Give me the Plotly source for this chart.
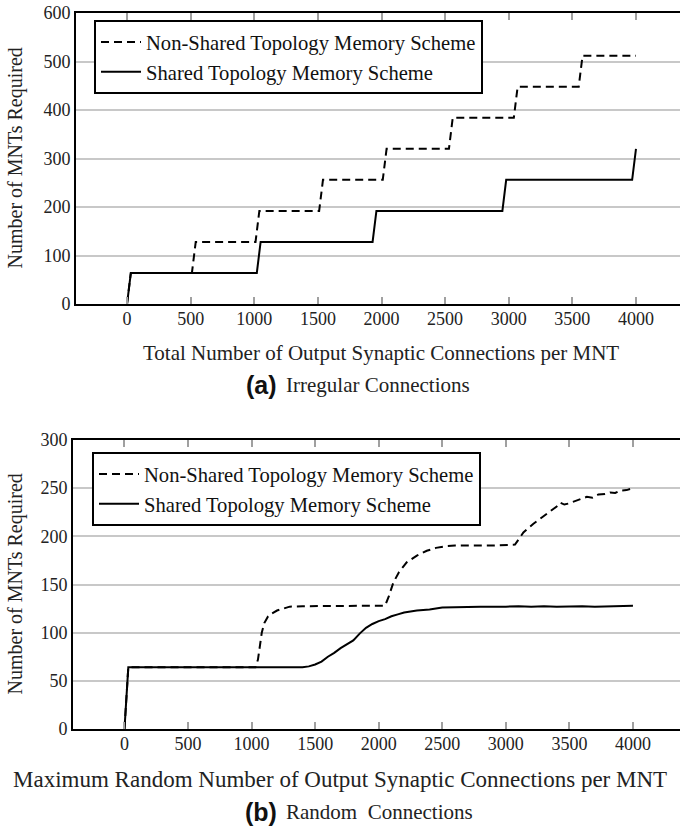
import plotly.graph_objects as go

W, H = 680, 827

# ---- Panel (a): Irregular connections ----
a_nonshared_x = [0, 30, 510, 540, 1010, 1040, 1510, 1540, 2010, 2040, 2530, 2560, 3040, 3070, 3550, 3580, 4000]
a_nonshared_y = [0, 64, 64, 128, 128, 192, 192, 256, 256, 320, 320, 384, 384, 448, 448, 512, 512]
a_shared_x = [0, 30, 1020, 1050, 1930, 1960, 2950, 2980, 3970, 4000]
a_shared_y = [0, 64, 64, 128, 128, 192, 192, 256, 256, 320]

# ---- Panel (b): Random connections ----
b_nonshared_x = [0, 30, 1030, 1050, 1080, 1100, 1130, 1160, 1200, 1250, 1300, 1400, 1600, 1800, 2050,
                 2080, 2115, 2160, 2220, 2300, 2378, 2450, 2535, 2600, 2692, 2800, 2900, 3072,
                 3090, 3138, 3217, 3290, 3348, 3400, 3427, 3460, 3492, 3558, 3600, 3637, 3680,
                 3728, 3780, 3820, 3860, 3899, 3950, 4000]
b_nonshared_y = [0, 64, 64, 72, 100, 110, 117, 120, 123, 125, 127, 127.5, 127.5, 128, 128,
                 138, 152, 163, 173, 180, 185, 188, 190, 190.5, 190.5, 191, 190.5, 191.4,
                 195, 204, 213, 220, 226, 231, 235, 233, 234, 237, 239, 241, 240,
                 243.5, 244, 245.5, 245, 247.5, 248, 250]
b_shared_x = [0, 30, 1400, 1450, 1500, 1550, 1600, 1650, 1700, 1750, 1800, 1850, 1900, 1950, 2000,
              2050, 2100, 2150, 2200, 2250, 2300, 2400, 2500, 2600, 2700, 2800, 3000, 3100, 3200,
              3300, 3400, 3500, 3600, 3700, 3800, 3900, 4000]
b_shared_y = [0, 64, 64, 65, 67, 70, 75, 79, 84, 88, 92, 99, 105, 109, 112,
              114, 117, 119, 121, 122, 123, 124, 126, 126.5, 127, 127, 127, 127.5, 127,
              127.5, 127, 127.5, 127.5, 127, 127.5, 127.5, 128]

a_yticks = [0, 100, 200, 300, 400, 500, 600]
b_yticks = [0, 50, 100, 150, 200, 250, 300]
xticks = [0, 500, 1000, 1500, 2000, 2500, 3000, 3500, 4000]
series_names = ["Non-Shared Topology Memory Scheme", "Shared Topology Memory Scheme"]

SERIF = "Liberation Serif"
DASH = "8px,5px"

fig = go.Figure()
fig.add_trace(go.Scatter(x=a_nonshared_x, y=a_nonshared_y, mode="lines", name=series_names[0],
                         line=dict(color="black", width=2, dash=DASH), xaxis="x", yaxis="y",
                         legend="legend"))
fig.add_trace(go.Scatter(x=a_shared_x, y=a_shared_y, mode="lines", name=series_names[1],
                         line=dict(color="black", width=2), xaxis="x", yaxis="y",
                         legend="legend"))
fig.add_trace(go.Scatter(x=b_nonshared_x, y=b_nonshared_y, mode="lines", name=series_names[0],
                         line=dict(color="black", width=2, dash=DASH), xaxis="x2", yaxis="y2",
                         legend="legend2"))
fig.add_trace(go.Scatter(x=b_shared_x, y=b_shared_y, mode="lines", name=series_names[1],
                         line=dict(color="black", width=2), xaxis="x2", yaxis="y2",
                         legend="legend2"))


def px_x(p):
    return p / W


def px_y(p):
    return 1 - p / H


xcommon = dict(tickvals=xticks, ticks="inside", ticklen=7, tickwidth=2, tickcolor="#a0a0a0",
               showline=True, linecolor="black", linewidth=2, mirror="ticks", automargin=False,
               ticklabelstandoff=-3,
               showgrid=False, zeroline=False, tickfont=dict(family=SERIF, size=18, color="#222"))
ycommon = dict(showline=True, linecolor="black", linewidth=2, mirror=False, automargin=False,
               showgrid=True, gridcolor="#c8c8c8", gridwidth=2, zeroline=False, ticks="",
               tickfont=dict(family=SERIF, size=18, color="#222"))

fig.update_layout(
    width=W, height=H,
    margin=dict(l=0, r=0, t=0, b=0, autoexpand=False),
    paper_bgcolor="white", plot_bgcolor="white",
    showlegend=True,
    xaxis=dict(domain=[px_x(76), 1], range=[-401, 4346], anchor="y", **xcommon),
    yaxis=dict(domain=[px_y(304), px_y(13)], range=[0, 600], tickvals=a_yticks, anchor="x", **ycommon),
    xaxis2=dict(domain=[px_x(73), 1], range=[-405, 4370], anchor="y2", **xcommon),
    yaxis2=dict(domain=[px_y(729), px_y(440)], range=[0, 300], tickvals=b_yticks, anchor="x2", **ycommon),
    legend=dict(x=px_x(94), y=px_y(20), xanchor="left", yanchor="top", bgcolor="white",
                bordercolor="black", borderwidth=2, font=dict(family=SERIF, size=20.6, color="#111"),
                itemwidth=40, tracegroupgap=0),
    legend2=dict(x=px_x(92), y=px_y(452), xanchor="left", yanchor="top", bgcolor="white",
                 bordercolor="black", borderwidth=2, font=dict(family=SERIF, size=20.6, color="#111"),
                 itemwidth=40, tracegroupgap=0),
)

ann = []
# y-axis titles
for yc in [158.5, 584.5]:
    ann.append(dict(text="Number of MNTs Required", x=px_x(15), y=px_y(yc), xref="paper", yref="paper",
                    xanchor="center", yanchor="middle",
                    textangle=-90, showarrow=False, font=dict(family=SERIF, size=20, color="#222")))
# x-axis titles
ann.append(dict(text="Total Number of Output Synaptic Connections per MNT", x=px_x(381), y=px_y(353),
                xref="paper", yref="paper", xanchor="center", yanchor="middle",
                showarrow=False, font=dict(family=SERIF, size=21, color="#222")))
ann.append(dict(text="Maximum Random Number of Output Synaptic Connections per MNT", x=px_x(340), y=px_y(779),
                xref="paper", yref="paper", xanchor="center", yanchor="middle",
                showarrow=False, font=dict(family=SERIF, size=23, color="#222")))
# captions
for lab, txt, yc in [("(a)", "Irregular Connections", 385), ("(b)", "Random  Connections", 812)]:
    ann.append(dict(text="<b>" + lab + "</b>", x=px_x(279), y=px_y(yc), xref="paper", yref="paper",
                    xanchor="right", yanchor="middle", showarrow=False,
                    font=dict(family="Liberation Sans Narrow, Liberation Sans, Arial", size=25, color="#111")))
    ann.append(dict(text=txt.replace("  ", "&nbsp; "), x=px_x(284), y=px_y(yc), xref="paper", yref="paper",
                    xanchor="left", yanchor="middle", showarrow=False,
                    font=dict(family=SERIF, size=21, color="#222")))
fig.update_layout(annotations=ann)

fig.write_html("out.html", config={"displayModeBar": False},
               post_script="document.body.style.margin='0';document.body.style.padding='0';")
